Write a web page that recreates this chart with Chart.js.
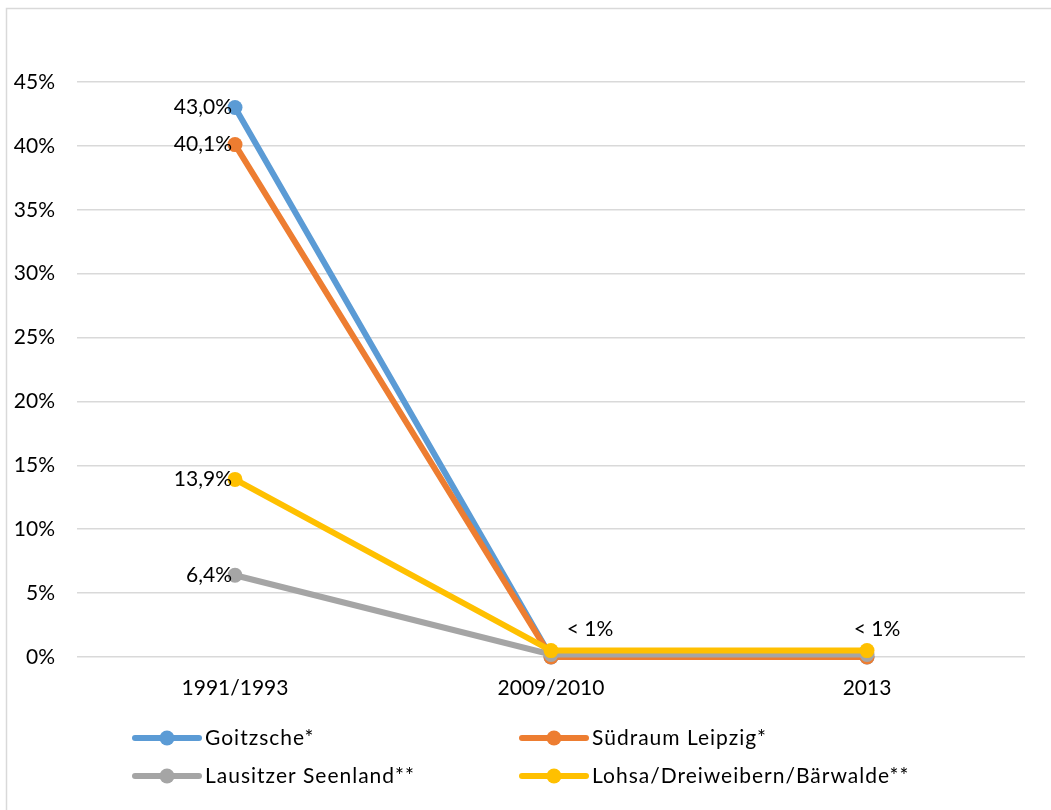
<!DOCTYPE html>
<html>
<head>
<meta charset="utf-8">
<script src="https://cdn.jsdelivr.net/npm/chart.js@4"></script>
<style>
  html, body { margin: 0; padding: 0; background: #fff; }
  #wrap { position: relative; width: 1051px; height: 810px; }
</style>
</head>
<body>
<div id="wrap"><canvas id="c" width="1051" height="810"></canvas></div>
<script>
const categories = ["1991/1993", "2009/2010", "2013"];
const seriesNames = ["Goitzsche*", "Südraum Leipzig*", "Lausitzer Seenland**", "Lohsa/Dreiweibern/Bärwalde**"];
const goitzsche = [43.0, 0.0, 0.0];
const suedraumLeipzig = [40.1, 0.0, 0.0];
const lausitzerSeenland = [6.4, 0.2, 0.2];
const lohsa = [13.9, 0.5, 0.5];
const pointLabels = [
  ["43,0%", null, null],
  ["40,1%", null, null],
  ["6,4%", null, null],
  ["13,9%", "< 1%", "< 1%"]
];
const yTicks = [0, 5, 10, 15, 20, 25, 30, 35, 40, 45];

const colors = ["#5b9bd5", "#ed7d31", "#a5a5a5", "#ffc000"];
const FONT = "Lato, 'DejaVu Sans', sans-serif";
const FS = 21;

const seriesValues = [goitzsche, suedraumLeipzig, lausitzerSeenland, lohsa];
const datasets = seriesValues.map((vals, i) => ({
  label: seriesNames[i],
  data: vals,
  borderColor: colors[i],
  backgroundColor: colors[i],
  borderWidth: 6,
  pointRadius: 7.5,
  pointHoverRadius: 7.5,
  pointBorderWidth: 0,
  tension: 0,
  clip: false,
  order: seriesValues.length - i
}));

const labelPlugin = {
  id: 'labels',
  afterDatasetsDraw(chart) {
    const ctx = chart.ctx;
    ctx.save();
    ctx.font = FS + "px " + FONT;
    ctx.fillStyle = "#000";
    ctx.textBaseline = "middle";
    chart.data.datasets.forEach((ds, di) => {
      const meta = chart.getDatasetMeta(di);
      meta.data.forEach((pt, i) => {
        const t = pointLabels[di][i];
        if (!t) return;
        if (i === 0) {
          ctx.textAlign = "right";
          ctx.fillText(t, pt.x - 3, pt.y);
        } else {
          ctx.textAlign = "center";
          const dx = i === 1 ? 39 : 10;
          ctx.fillText(t, pt.x + dx, pt.y - 21);
        }
      });
    });
    ctx.restore();
  }
};

const legendPlugin = {
  id: 'customLegend',
  afterDraw(chart) {
    const ctx = chart.ctx;
    ctx.save();
    const cols = [135, 522];
    const rows = [738, 776];
    chart.data.datasets.forEach((ds, i) => {
      const x = cols[i % 2], y = rows[Math.floor(i / 2)];
      ctx.strokeStyle = ds.borderColor;
      ctx.lineWidth = 6;
      ctx.lineCap = "round";
      ctx.beginPath();
      ctx.moveTo(x, y);
      ctx.lineTo(x + 64, y);
      ctx.stroke();
      ctx.fillStyle = ds.borderColor;
      ctx.beginPath();
      ctx.arc(x + 32, y, 7.5, 0, Math.PI * 2);
      ctx.fill();
      ctx.fillStyle = "#000";
      ctx.font = FS + "px " + FONT;
      ctx.letterSpacing = "1px";
      ctx.textAlign = "left";
      ctx.textBaseline = "middle";
      ctx.fillText(ds.label, x + 70, y);
      ctx.letterSpacing = "0px";
    });
    ctx.restore();
  }
};

const borderPlugin = {
  id: 'outerBorder',
  beforeDraw(chart) {
    const ctx = chart.ctx;
    ctx.save();
    ctx.fillStyle = "#fff";
    ctx.fillRect(0, 0, chart.width, chart.height);
    ctx.strokeStyle = "#d9d9d9";
    ctx.lineWidth = 1.5;
    ctx.strokeRect(6.5, 8.5, 1100, 900);
    ctx.restore();
  }
};

new Chart(document.getElementById('c'), {
  type: 'line',
  data: { labels: categories, datasets },
  options: {
    responsive: false,
    animation: false,
    devicePixelRatio: 1,
    layout: { padding: { top: 82, right: 26, bottom: 0, left: 0 } },
    plugins: { legend: { display: false }, tooltip: { enabled: false } },
    scales: {
      x: {
        type: 'category',
        offset: true,
        grid: { display: false, drawTicks: false },
        border: { display: false },
        ticks: { color: "#000", font: { family: FONT, size: FS }, padding: 19, maxRotation: 0 },
        afterFit(scale) { scale.height = 153; }
      },
      y: {
        min: 0,
        max: 45,
        afterBuildTicks(scale) { scale.ticks = yTicks.map(v => ({ value: v })); },
        grid: { color: "#d9d9d9", lineWidth: 1.5, drawTicks: false },
        border: { display: false },
        ticks: { color: "#000", font: { family: FONT, size: FS }, padding: 22,
                 callback: v => v + "%" },
        afterFit(scale) { scale.width = 77; }
      }
    }
  },
  plugins: [borderPlugin, labelPlugin, legendPlugin]
});
</script>
</body>
</html>
